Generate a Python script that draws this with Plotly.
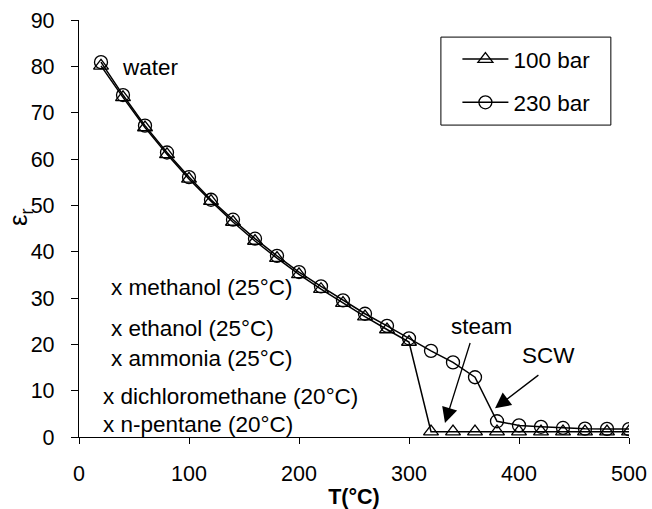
import plotly.graph_objects as go

T = [20, 40, 60, 80, 100, 120, 140, 160, 180, 200, 220, 240, 260, 280, 300,
     320, 340, 360, 380, 400, 420, 440, 460, 480, 500]
eps_100bar = [80.1, 73.3, 66.8, 61.0, 55.7, 50.9, 46.4, 42.3, 38.6, 35.1, 31.9, 28.9, 26.0, 23.2, 20.5,
              1.15, 1.15, 1.15, 1.15, 1.15, 1.15, 1.15, 1.15, 1.15, 1.15]
eps_230bar = [80.9, 73.8, 67.2, 61.4, 56.1, 51.2, 46.9, 42.8, 39.1, 35.6, 32.5, 29.5, 26.6, 24.0, 21.3,
              18.6, 16.1, 12.9, 3.4, 2.5, 2.2, 1.95, 1.8, 1.75, 1.7]

solvent_labels = ["x methanol (25°C)", "x ethanol (25°C)", "x ammonia (25°C)",
                  "x dichloromethane (20°C)", "x n-pentane (20°C)"]
solvent_eps = [32.2, 23.5, 17.0, 8.7, 2.6]
solvent_x = [27.0, 27.0, 27.0, 20.0, 20.0]

FONT = "Liberation Sans, Arial, sans-serif"
FS = 21.5
FA = 22.5

fig = go.Figure()
fig.add_trace(go.Scatter(
    x=T, y=eps_100bar, mode="lines+markers", name="100 bar", legendgroup="a",
    line=dict(color="black", width=1.5),
    marker=dict(symbol="triangle-up-open", size=13, color="black", line=dict(width=1.3, color="black")),
))
fig.add_trace(go.Scatter(
    x=T, y=eps_230bar, mode="lines+markers", name="230 bar", legendgroup="b",
    line=dict(color="black", width=1.5),
    marker=dict(symbol="circle-open", size=13, color="black", line=dict(width=1.3, color="black")),
))

annotations = []
for lab, yv, xv in zip(solvent_labels, solvent_eps, solvent_x):
    annotations.append(dict(x=xv, y=yv, xref="x", yref="y", text=lab, showarrow=False,
                            xanchor="left", yanchor="middle", font=dict(size=FA, color="black", family=FONT)))
annotations.append(dict(x=37.3, y=79.8, xref="x", yref="y", text="water", showarrow=False,
                        xanchor="left", yanchor="middle", font=dict(size=FA, color="black", family=FONT)))
annotations.append(dict(x=366, y=23.8, xref="x", yref="y", text="steam", showarrow=False,
                        xanchor="center", yanchor="middle", font=dict(size=FA, color="black", family=FONT)))
annotations.append(dict(x=427, y=17.5, xref="x", yref="y", text="SCW", showarrow=False,
                        xanchor="center", yanchor="middle", font=dict(size=FA, color="black", family=FONT)))
# y-axis title
annotations.append(dict(x=-0.107, y=0.528, xref="paper", yref="paper", text="ε<sub>r</sub>",
                        showarrow=False, textangle=-90, xanchor="center", yanchor="middle",
                        font=dict(size=26, color="black", family=FONT)))
# arrows
annotations.append(dict(x=332.7, y=3.0, ax=356, ay=20.6, xref="x", yref="y", axref="x", ayref="y",
                        text="", showarrow=True, arrowhead=2, arrowsize=2.4, arrowwidth=1.3, arrowcolor="black"))
annotations.append(dict(x=378.2, y=6.2, ax=419, ay=13.6, xref="x", yref="y", axref="x", ayref="y",
                        text="", showarrow=True, arrowhead=2, arrowsize=2.4, arrowwidth=1.3, arrowcolor="black"))

fig.update_layout(
    width=652, height=509,
    margin=dict(l=79, r=23, t=20, b=72),
    paper_bgcolor="white", plot_bgcolor="white",
    font=dict(family=FONT, size=FS, color="black"),
    showlegend=True,
    legend=dict(x=0.688, y=0.957, xanchor="left", yanchor="top",
                borderwidth=0, bgcolor="rgba(0,0,0,0)",
                font=dict(size=22.5, family=FONT), tracegroupgap=11, itemwidth=46),
    shapes=[dict(type="rect", xref="paper", yref="paper", x0=0.658, x1=0.967, y0=0.748, y1=0.959,
                 line=dict(color="black", width=1), fillcolor="rgba(0,0,0,0)", layer="below")],
    annotations=annotations,
    xaxis=dict(range=[0, 500], tickvals=[0, 100, 200, 300, 400, 500], showgrid=False, zeroline=False,
               showline=True, linecolor="black", linewidth=1.3, ticks="outside", ticklen=6,
               tickcolor="black", tickwidth=1.3, ticklabelstandoff=11, automargin=False,
               title=dict(text="<b>T(°C)</b>", font=dict(size=FS, family=FONT), standoff=10)),
    yaxis=dict(range=[0, 90], tickvals=list(range(0, 91, 10)), showgrid=False, zeroline=False,
               showline=True, linecolor="black", linewidth=1.3, ticks="outside", ticklen=7,
               tickcolor="black", tickwidth=1.3, ticklabelstandoff=12, automargin=False),
)

fig.write_html("out.html")
